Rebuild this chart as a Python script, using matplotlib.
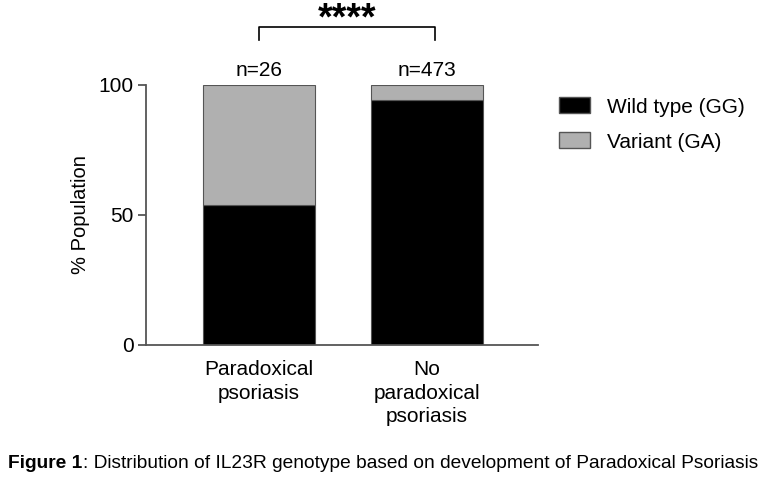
import matplotlib.pyplot as plt
from matplotlib.patches import Patch

plt.rcParams['font.family'] = ['Liberation Sans', 'DejaVu Sans']

groups = ['Paradoxical\npsoriasis', 'No\nparadoxical\npsoriasis']
n_labels = ['n=26', 'n=473']
wild_type = [53.8, 94.1]
variant = [46.2, 5.9]
series_names = ['Wild type (GG)', 'Variant (GA)']
significance = '****'

fig = plt.figure(figsize=(7.68, 4.92), dpi=100)
ax = fig.add_axes([0.190, 0.2988, 0.5104, 0.5285])

x = list(range(len(groups)))
spine_col = '#555555'
ax.bar(x, wild_type, width=0.667, color='black', edgecolor=spine_col, linewidth=0.8)
ax.bar(x, variant, width=0.667, bottom=wild_type, color='#b0b0b0',
       edgecolor=spine_col, linewidth=0.8)

ax.set_xlim(-0.673, 1.661)
ax.set_ylim(0, 100)
ax.set_yticks([0, 50, 100])
ax.set_xticks(x)
ax.set_xticklabels(groups, fontsize=15, linespacing=1.3)
ax.tick_params(axis='y', labelsize=15, length=6, width=1.3, color=spine_col, pad=3)
ax.tick_params(axis='x', length=0, pad=11)
ax.set_ylabel('% Population', fontsize=14.5, labelpad=6)

for s in ['top', 'right']:
    ax.spines[s].set_visible(False)
for s in ['left', 'bottom']:
    ax.spines[s].set_color(spine_col)
    ax.spines[s].set_linewidth(1.3)

for xi, lab in zip(x, n_labels):
    ax.text(xi, 102, lab, ha='center', va='bottom', fontsize=15)

# significance bracket + stars
bx0, bx1 = 0.0, 1.05
ax.plot([bx0, bx0, bx1, bx1], [117.3, 122.3, 122.3, 117.3], color='black',
        linewidth=1.2, clip_on=False)
fig.text(347 / 768, 0.941, significance, ha='center', va='baseline',
         fontsize=27, fontweight='bold')

handles = [Patch(facecolor='black', edgecolor=spine_col),
           Patch(facecolor='#b0b0b0', edgecolor=spine_col)]
fig.legend(handles, series_names, loc='upper left', bbox_to_anchor=(0.703, 0.84),
           frameon=False, fontsize=15, handlelength=1.5, handleheight=0.8,
           labelspacing=0.75, handletextpad=0.8)

# caption with bold "Figure 1" prefix
t1 = fig.text(0.011, 0.057, 'Figure 1', fontsize=13.8, fontweight='bold', va='center')
fig.canvas.draw()
x_after = t1.get_window_extent().x1 / fig.bbox.width
fig.text(x_after, 0.057, ': Distribution of IL23R genotype based on development of Paradoxical Psoriasis',
         fontsize=13.8, va='center')

fig.savefig('out.png', dpi=100)
